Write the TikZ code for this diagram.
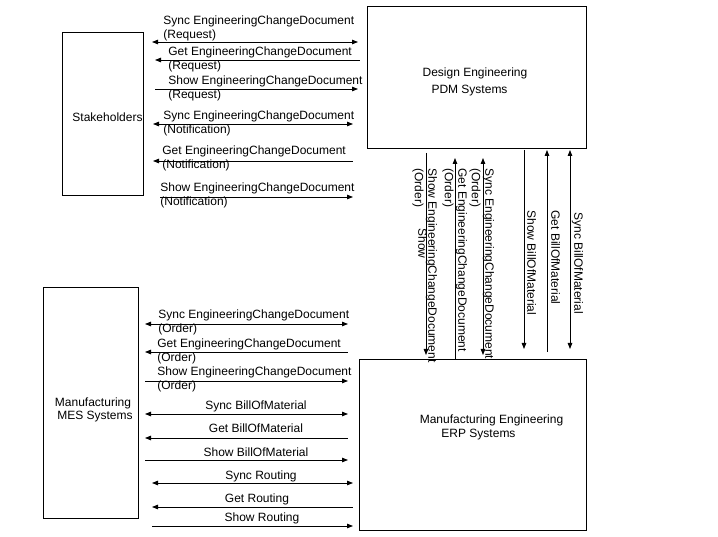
\documentclass[tikz,border=0pt]{standalone}
\usepackage{fontspec}
\setmainfont{Liberation Sans}
\usetikzlibrary{arrows.meta}

\begin{document}
\begin{tikzpicture}[x=1pt,y=-1pt,line width=0.8pt,
  font=\fontsize{12}{13.5}\selectfont,
  >={Triangle[length=6pt,width=4.5pt]},
  box/.style={draw,inner sep=0pt},
  lbl/.style={anchor=north west,inner sep=0pt,align=left},
  midlbl/.style={anchor=base,inner sep=0pt},
  vlbl/.style={lbl,rotate=-90}]
\useasboundingbox (0,0) rectangle (718,537);

% Draw the four systems
\node[box,minimum width=81pt,minimum height=163pt] (stake) at (102.5,113.5) {};
\node[box,minimum width=219pt,minimum height=142pt] (pdm) at (476.5,77) {};
\node[box,minimum width=95pt,minimum height=231pt] (mes) at (90.5,402.5) {};
\node[box,minimum width=227pt,minimum height=171pt] (erp) at (472.5,444.5) {};
\node (stake-t) at (107.5,117) {Stakeholders};
\node (pdm-t1) at (475,73) {Design Engineering};
\node (pdm-t2) at (469.5,91) {PDM Systems};
\node (mes-t1) at (93,403) {Manufacturing};
\node (mes-t2) at (95,417) {MES Systems};
\node (erp-t1) at (491.5,420) {Manufacturing Engineering};
\node (erp-t2) at (478.5,435) {ERP Systems};

% Stakeholders and PDM
\coordinate (syncreq-w) at (152,42); \coordinate (syncreq-e) at (358,42);
\draw[<->] (syncreq-w) -- (syncreq-e);
\node[lbl] (syncreq) at (163,15.6) {Sync EngineeringChangeDocument\\(Request)};
\coordinate (getreq-w) at (155,60); \coordinate (getreq-e) at (360,60);
\draw[<-] (getreq-w) -- (getreq-e);
\node[lbl] (getreq) at (168,46.6) {Get EngineeringChangeDocument\\(Request)};
\coordinate (showreq-w) at (155,89); \coordinate (showreq-e) at (358,89);
\draw[->] (showreq-w) -- (showreq-e);
\node[lbl] (showreq) at (168,75.6) {Show EngineeringChangeDocument\\(Request)};
\coordinate (syncnot-w) at (153,124); \coordinate (syncnot-e) at (353,124);
\draw[<->] (syncnot-w) -- (syncnot-e);
\node[lbl] (syncnot) at (163,110.6) {Sync EngineeringChangeDocument\\(Notification)};
\coordinate (getnot-w) at (153,161); \coordinate (getnot-e) at (353,161);
\draw[<-] (getnot-w) -- (getnot-e);
\node[lbl] (getnot) at (162,145.6) {Get EngineeringChangeDocument\\(Notification)};
\coordinate (shownot-w) at (160,197); \coordinate (shownot-e) at (353,197);
\draw[->] (shownot-w) -- (shownot-e);
\node[lbl] (shownot) at (160,182.6) {Show EngineeringChangeDocument\\(Notification)};

% MES and ERP
\coordinate (syncord-w) at (145,324); \coordinate (syncord-e) at (348,324);
\draw[<->] (syncord-w) -- (syncord-e);
\node[lbl] (syncord) at (158,309.6) {Sync EngineeringChangeDocument\\(Order)};
\coordinate (getord-w) at (145,352); \coordinate (getord-e) at (348,352);
\draw[<-] (getord-w) -- (getord-e);
\node[lbl] (getord) at (157,338.6) {Get EngineeringChangeDocument\\(Order)};
\coordinate (showord-w) at (145,381); \coordinate (showord-e) at (348,381);
\draw[->] (showord-w) -- (showord-e);
\node[lbl] (showord) at (157,366.6) {Show EngineeringChangeDocument\\(Order)};
\coordinate (syncbom-w) at (145,414); \coordinate (syncbom-e) at (348,414);
\draw[<->] (syncbom-w) -- (syncbom-e);
\node[midlbl] (syncbom) at (256,409.3) {Sync BillOfMaterial};
\coordinate (getbom-w) at (145,438); \coordinate (getbom-e) at (348,438);
\draw[<-] (getbom-w) -- (getbom-e);
\node[midlbl] (getbom) at (256,432.3) {Get BillOfMaterial};
\coordinate (showbom-w) at (145,460); \coordinate (showbom-e) at (348,460);
\draw[->] (showbom-w) -- (showbom-e);
\node[midlbl] (showbom) at (256,456.3) {Show BillOfMaterial};
\coordinate (syncrout-w) at (152,483); \coordinate (syncrout-e) at (353,483);
\draw[<->] (syncrout-w) -- (syncrout-e);
\node[midlbl] (syncrout) at (261,479.3) {Sync Routing};
\coordinate (getrout-w) at (152,507); \coordinate (getrout-e) at (353,507);
\draw[<-] (getrout-w) -- (getrout-e);
\node[midlbl] (getrout) at (257,502.3) {Get Routing};
\coordinate (showrout-w) at (152,526); \coordinate (showrout-e) at (353,526);
\draw[->] (showrout-w) -- (showrout-e);
\node[midlbl] (showrout) at (262,521.3) {Show Routing};

% PDM and ERP
\coordinate (vshoword-n) at (426,153); \coordinate (vshoword-s) at (426,355);
\draw[->] (vshoword-n) -- (vshoword-s);
\node[vlbl] (vshoword) at (437.4,168) {Show EngineeringChangeDocument\\(Order)};
\node[vlbl] (vshow) at (427.4,228) {Show};
\coordinate (vgetord-n) at (455,158); \coordinate (vgetord-s) at (455,360);
\draw[<-] (vgetord-n) -- (vgetord-s);
\node[vlbl] (vgetord) at (467.4,168) {Get EngineeringChangeDocument\\(Order)};
\coordinate (vsyncord-n) at (483,158); \coordinate (vsyncord-s) at (483,355);
\draw[<->] (vsyncord-n) -- (vsyncord-s);
\node[vlbl] (vsyncord) at (494.4,168) {Sync EngineeringChangeDocument\\(Order)};
\coordinate (vshowbom-n) at (524,150); \coordinate (vshowbom-s) at (524,349);
\draw[->] (vshowbom-n) -- (vshowbom-s);
\node[vlbl] (vshowbom) at (536.4,210) {Show BillOfMaterial};
\coordinate (vgetbom-n) at (547,150); \coordinate (vgetbom-s) at (547,352);
\draw[<-] (vgetbom-n) -- (vgetbom-s);
\node[vlbl] (vgetbom) at (560.4,210) {Get BillOfMaterial};
\coordinate (vsyncbom-n) at (570,150); \coordinate (vsyncbom-s) at (570,349);
\draw[<->] (vsyncbom-n) -- (vsyncbom-s);
\node[vlbl] (vsyncbom) at (583.4,212) {Sync BillOfMaterial};
\end{tikzpicture}
\end{document}
